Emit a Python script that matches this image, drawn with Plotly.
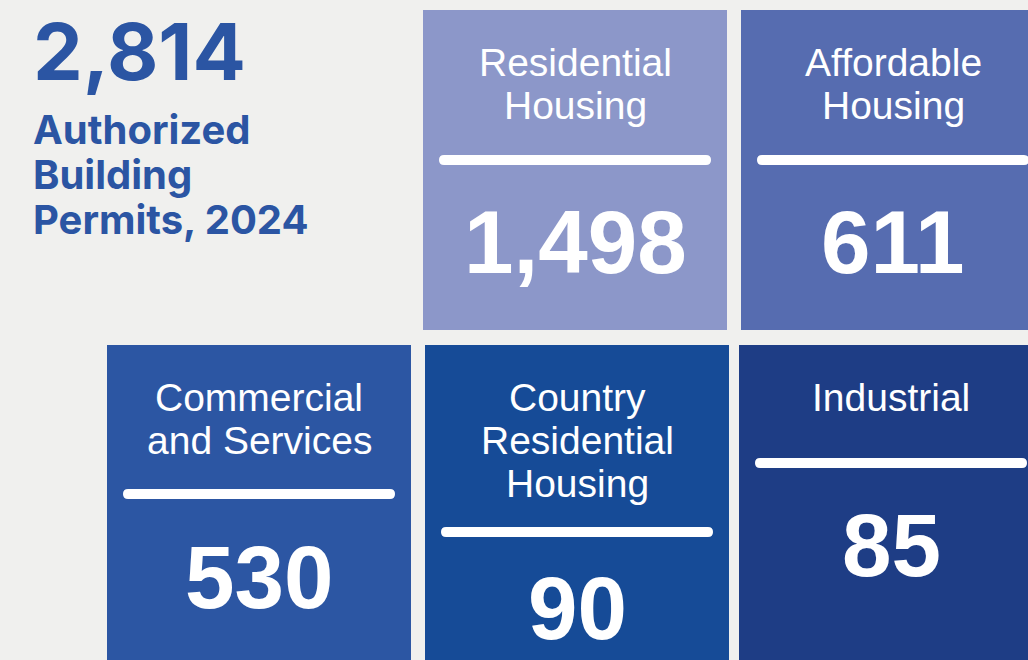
import plotly.graph_objects as go

# ---- data ----
total_permits = 2814
total_label_lines = ["Authorized", "Building", "Permits, 2024"]
categories = ["Residential Housing", "Affordable Housing", "Commercial and Services",
              "Country Residential Housing", "Industrial"]
category_lines = [["Residential", "Housing"], ["Affordable", "Housing"],
                  ["Commercial", "and Services"], ["Country", "Residential", "Housing"],
                  ["Industrial"]]
permits = [1498, 611, 530, 90, 85]

# ---- styling / layout ----
tile_colors = ["#8c97c9", "#566cb0", "#2c56a3", "#164b97", "#1e3d85"]
accent = "#2b55a3"
bg = "#f0f0ee"
# tile boxes: x0, x1, y0 (top), y1 (bottom)
tiles = [(423, 727, 10, 330), (741, 1045, 10, 330), (107, 411, 345, 680),
         (425, 729, 345, 680), (739, 1043, 345, 680)]
title_top = [62, 62, 397, 397, 397]
line_gap = 43
rule_y = [160, 160, 494, 532, 463]
num_y = [242, 242, 577, 608, 545]

W, H = 1028, 660
fig = go.Figure()
fig.add_trace(go.Scatter(x=[0, W], y=[0, H], mode="markers", marker=dict(opacity=0),
                         hoverinfo="skip", showlegend=False))

shapes, annotations = [], []
label_font = dict(family="Liberation Sans, Arial, sans-serif", size=39, color="white")
num_font = dict(family="Liberation Sans, Arial, sans-serif", size=89, color="white")

for i, (name, lines, v) in enumerate(zip(categories, category_lines, permits)):
    x0, x1, y0, y1 = tiles[i]
    shapes.append(dict(type="rect", xref="x", yref="y", x0=x0, x1=x1, y0=y0, y1=y1,
                       fillcolor=tile_colors[i], line=dict(width=0), layer="below"))
    cx = (x0 + x1) / 2 if x1 <= W else x0 + 152
    for j, ln in enumerate(lines):
        annotations.append(dict(x=cx, y=title_top[i] + j * line_gap, xref="x", yref="y",
                                text=ln, showarrow=False, xanchor="center", yanchor="middle",
                                font=label_font))
    # rounded rule
    rx0, rx1, ry, r = x0 + 16, x1 - 16, rule_y[i], 5
    path = (f"M{rx0 + r},{ry - r} L{rx1 - r},{ry - r} Q{rx1},{ry - r} {rx1},{ry} "
            f"Q{rx1},{ry + r} {rx1 - r},{ry + r} L{rx0 + r},{ry + r} "
            f"Q{rx0},{ry + r} {rx0},{ry} Q{rx0},{ry - r} {rx0 + r},{ry - r} Z")
    shapes.append(dict(type="path", xref="x", yref="y", path=path,
                       fillcolor="white", line=dict(width=0)))
    annotations.append(dict(x=cx, y=num_y[i], xref="x", yref="y", text=f"<b>{v:,}</b>",
                            showarrow=False, xanchor="center", yanchor="middle",
                            font=num_font))

annotations.append(dict(x=31, y=51, xref="x", yref="y", text=f"<b>{total_permits:,}</b>",
                        showarrow=False, xanchor="left", yanchor="middle",
                        font=dict(family="Inter, Lato, sans-serif", size=79, color=accent)))
for j, ln in enumerate(total_label_lines):
    annotations.append(dict(x=31, y=129 + j * 45, xref="x", yref="y", text=f"<b>{ln}</b>",
                            showarrow=False, xanchor="left", yanchor="middle",
                            font=dict(family="Inter, Lato, sans-serif", size=40, color=accent)))

fig.update_layout(
    width=W, height=H, margin=dict(l=0, r=0, t=0, b=0),
    paper_bgcolor=bg, plot_bgcolor=bg, showlegend=False,
    xaxis=dict(range=[0, W], visible=False, fixedrange=True),
    yaxis=dict(range=[H, 0], visible=False, fixedrange=True),
    shapes=shapes, annotations=annotations,
)
fig.write_html("out.html", config={"displayModeBar": False},
               post_script="document.body.style.margin='0';"
                           "document.body.style.overflow='hidden';"
                           "document.body.style.background='#f0f0ee';")
